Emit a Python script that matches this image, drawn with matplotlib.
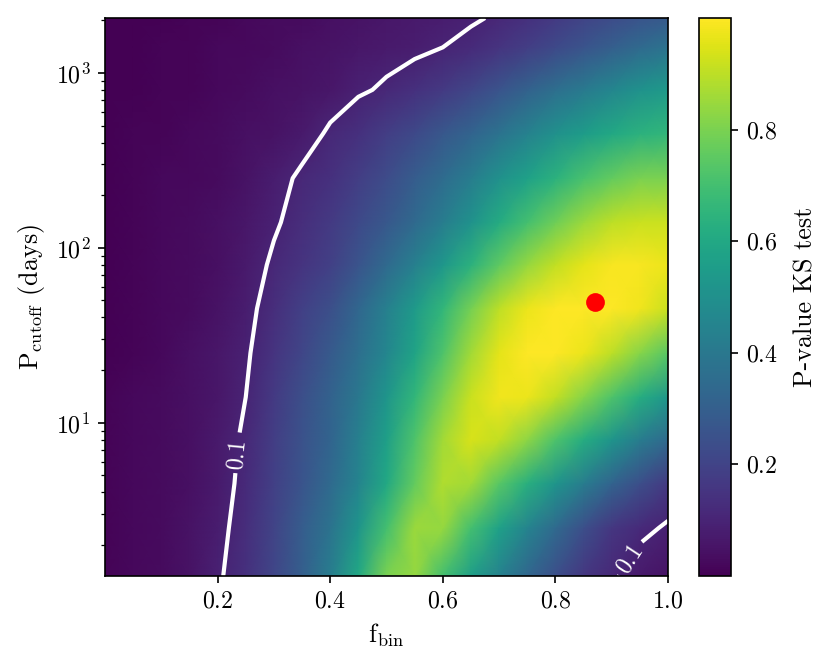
import numpy as np
import matplotlib.pyplot as plt

plt.rcParams['mathtext.fontset'] = 'cm'
plt.rcParams['font.family'] = 'serif'
plt.rcParams['font.serif'] = ['cmr10']
plt.rcParams['axes.formatter.use_mathtext'] = True
plt.rcParams['font.size'] = 11.5

# grid
f_bin = [0.00, 0.05, 0.10, 0.15, 0.20, 0.25, 0.30, 0.35, 0.40, 0.45, 0.50,
         0.55, 0.60, 0.65, 0.70, 0.75, 0.80, 0.85, 0.90, 0.95, 1.00]
p_cutoff = [1.33, 2.5, 4.5, 8, 14, 25, 45, 80, 140, 250, 450, 800, 1400, 2060]

# KS p-value, one row per P_cutoff (bottom to top)
ks_pvalue = [
    [0.01, 0.02, 0.03, 0.05, 0.09, 0.14, 0.21, 0.30, 0.42, 0.60, 0.80, 0.84, 0.70, 0.56, 0.44, 0.33, 0.24, 0.16, 0.11, 0.07, 0.05],
    [0.01, 0.02, 0.03, 0.05, 0.08, 0.13, 0.20, 0.29, 0.38, 0.52, 0.70, 0.85, 0.84, 0.70, 0.57, 0.45, 0.34, 0.24, 0.16, 0.12, 0.09],
    [0.01, 0.02, 0.03, 0.04, 0.07, 0.12, 0.19, 0.26, 0.34, 0.45, 0.60, 0.76, 0.88, 0.86, 0.74, 0.63, 0.52, 0.42, 0.32, 0.24, 0.17],
    [0.01, 0.02, 0.03, 0.04, 0.07, 0.11, 0.18, 0.25, 0.32, 0.43, 0.56, 0.72, 0.86, 0.94, 0.91, 0.83, 0.72, 0.62, 0.52, 0.42, 0.34],
    [0.01, 0.02, 0.03, 0.04, 0.06, 0.10, 0.17, 0.24, 0.31, 0.40, 0.52, 0.66, 0.80, 0.92, 0.98, 0.97, 0.91, 0.82, 0.72, 0.62, 0.53],
    [0.00, 0.01, 0.02, 0.04, 0.06, 0.09, 0.15, 0.21, 0.28, 0.36, 0.46, 0.58, 0.72, 0.86, 0.96, 1.00, 1.00, 0.97, 0.90, 0.82, 0.74],
    [0.00, 0.01, 0.02, 0.03, 0.05, 0.08, 0.13, 0.19, 0.24, 0.33, 0.43, 0.54, 0.66, 0.79, 0.90, 0.97, 1.00, 1.00, 1.00, 0.98, 0.92],
    [0.00, 0.01, 0.02, 0.03, 0.04, 0.07, 0.11, 0.15, 0.19, 0.26, 0.34, 0.43, 0.53, 0.64, 0.75, 0.84, 0.91, 0.96, 0.99, 0.99, 0.97],
    [0.00, 0.01, 0.02, 0.03, 0.04, 0.06, 0.09, 0.13, 0.17, 0.22, 0.27, 0.34, 0.42, 0.51, 0.61, 0.70, 0.78, 0.85, 0.90, 0.92, 0.92],
    [0.00, 0.01, 0.02, 0.02, 0.03, 0.05, 0.08, 0.11, 0.14, 0.18, 0.23, 0.29, 0.35, 0.42, 0.50, 0.57, 0.64, 0.71, 0.76, 0.80, 0.80],
    [0.00, 0.01, 0.01, 0.02, 0.03, 0.04, 0.05, 0.07, 0.11, 0.14, 0.18, 0.22, 0.27, 0.32, 0.38, 0.44, 0.50, 0.55, 0.60, 0.64, 0.66],
    [0.00, 0.00, 0.01, 0.01, 0.02, 0.03, 0.04, 0.05, 0.06, 0.09, 0.11, 0.14, 0.17, 0.21, 0.26, 0.31, 0.36, 0.41, 0.46, 0.51, 0.54],
    [0.00, 0.00, 0.01, 0.01, 0.02, 0.02, 0.03, 0.04, 0.05, 0.06, 0.07, 0.08, 0.10, 0.12, 0.15, 0.18, 0.22, 0.26, 0.30, 0.34, 0.38],
    [0.00, 0.00, 0.00, 0.01, 0.01, 0.02, 0.03, 0.03, 0.04, 0.05, 0.06, 0.07, 0.08, 0.09, 0.11, 0.14, 0.17, 0.20, 0.23, 0.26, 0.28],
]

best_fbin = 0.87
best_pcut = 49

fig = plt.figure(figsize=(831 / 150, 667 / 150), dpi=150)
ax = fig.add_axes([105 / 831, 91 / 667, 563 / 831, 558 / 667])
cax = fig.add_axes([699 / 831, 91 / 667, 32 / 831, 558 / 667])

# scale first, so the contour labels are cut in the right space
ax.set_yscale('log')
ax.set_xlim(0.0, 1.0)
ax.set_ylim(1.33, 2060)

X, Y = np.meshgrid(f_bin, p_cutoff)
Z = np.array(ks_pvalue)

mesh = ax.pcolormesh(X, Y, Z, cmap='viridis', shading='gouraud', vmin=0.0, vmax=1.0)
cs = ax.contour(X, Y, Z, levels=[0.1], colors='white', linewidths=2)
ax.clabel(cs, fmt='%.1f', fontsize=11.5, inline=True,
          manual=[(0.237, 6.6), (0.93, 1.7)])

ax.plot(best_fbin, best_pcut, 'o', color='red', markersize=8)

ax.set_xlim(0.0, 1.0)
ax.set_ylim(1.33, 2060)
ax.set_xticks([0.2, 0.4, 0.6, 0.8, 1.0])
ax.set_xlabel(r'$\mathrm{f_{bin}}$', fontsize=12.5)
ax.set_ylabel(r'$\mathrm{P_{cutoff}}$ (days)', fontsize=12.5)

cbar = fig.colorbar(mesh, cax=cax)
cbar.set_ticks([0.2, 0.4, 0.6, 0.8])
cbar.set_label('P-value KS test', fontsize=12.5, labelpad=8)

fig.savefig('out.png', dpi=150)
